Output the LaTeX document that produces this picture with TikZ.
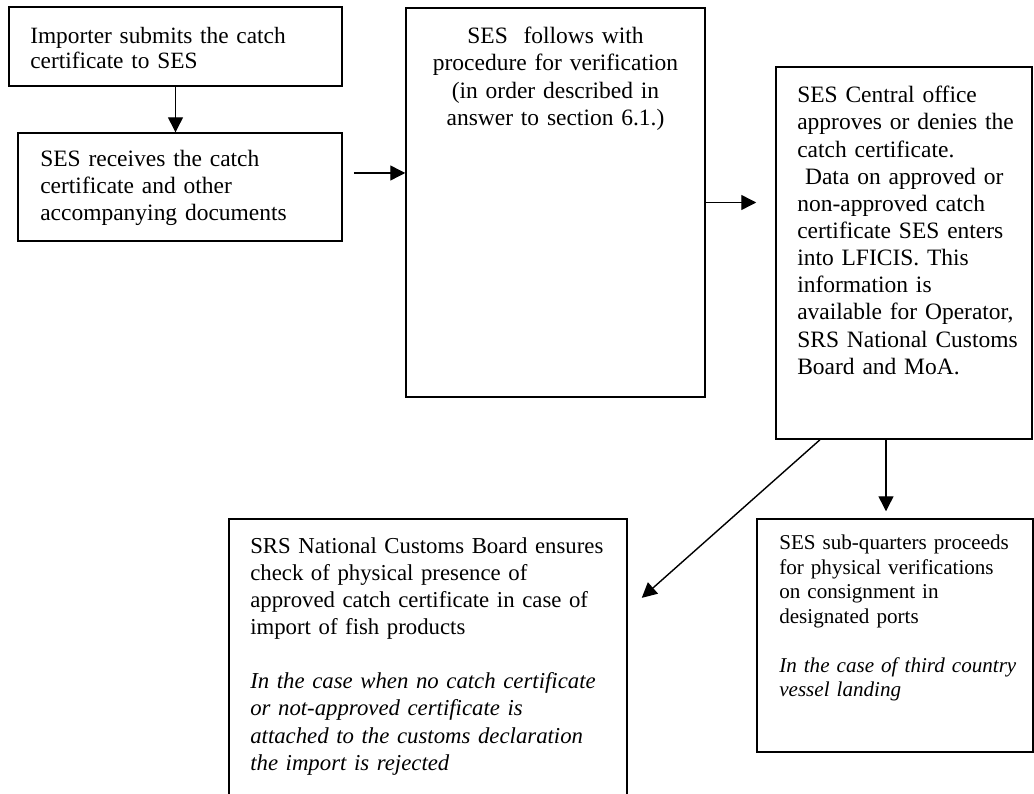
\documentclass[tikz,border=0pt]{standalone}
\usepackage{fontspec}
\setmainfont{Liberation Serif}
\usetikzlibrary{arrows.meta}
\tikzset{
  box/.style={draw, line width=1pt, inner sep=0pt},
  txt/.style={anchor=north west, inner sep=0pt, align=left},
  arr/.style={-{Triangle[length=0.375cm,width=0.375cm]}, line width=1pt},
  big/.style={font=\fontsize{16.7}{19.3}\selectfont},
  mid/.style={font=\fontsize{16.6}{17.8}\selectfont},
  small/.style={font=\fontsize{15}{17.4}\selectfont}
}

\begin{document}
\begin{tikzpicture}[x=0.025cm,y=-0.025cm]
            \useasboundingbox (0,0) rectangle (1034,794);

            \node[box, minimum width=8.325cm, minimum height=1.975cm] (imp) at (175.5,46.5) {};
            \node[box, minimum width=8.1cm, minimum height=2.7cm] (rec) at (180,187) {};
            \node[box, minimum width=7.475cm, minimum height=9.725cm] (ver) at (555.5,202.5) {};
            \node[box, minimum width=6.4cm, minimum height=9.3cm] (app) at (904,253) {};
            \node[box, minimum width=9.95cm, minimum height=7.025cm] (cus) at (428,659.5) {};
            \node[box, minimum width=6.9cm, minimum height=5.825cm] (sub) at (895,635.5) {};

            \node[txt, mid, text width=7.8cm] (impt) at (30,27) {Importer submits the catch\\certificate to SES};
            \node[txt, big, text width=7.6cm] (rect) at (40,150) {SES receives the catch\\certificate and other\\accompanying documents};
            \node[txt, big, anchor=north, align=center, text width=7cm] (vert) at (555.5,27) {SES\ \ follows with\\procedure for verification\\(in order described in\\answer to section 6.1.)};
            \node[txt, big, text width=5.8cm] (appt) at (797,86) {SES Central office\\approves or denies the\\catch certificate.\\\ Data on approved or\\non-approved catch\\certificate SES enters\\into LFICIS. This\\information is\\available for Operator,\\SRS National Customs\\Board and MoA.};
            \node[txt, font=\fontsize{16.2}{19.3}\selectfont, text width=9.4cm] (cust) at (250,537) {SRS National Customs Board ensures\\check of physical presence of\\approved catch certificate in case of\\import of fish products\\[19.3pt]\itshape In the case when no catch certificate\\or not-approved certificate is\\attached to the customs declaration\\the import is rejected};
            \node[txt, small, text width=6.4cm] (subt) at (779,535) {SES sub-quarters proceeds\\for physical verifications\\on consignment in\\designated ports\\[17.4pt]\itshape In the case of third country\\vessel landing};

            \coordinate (b1) at ([xshift=0.275cm,yshift=0.35cm]rec.east);
            \coordinate (c1) at ([xshift=-0.475cm]app.west |- ver.east);
            \coordinate (d1) at ([xshift=-0.45cm]app.south);
            \coordinate (d2) at ([xshift=-2.1cm]app.south);
            \coordinate (e1) at ([xshift=0.35cm,yshift=1.54cm]cus.east);

            \draw[arr] (imp.south) -- (imp.south |- rec.north);
            \draw[arr] (b1) -- (b1 -| ver.west);
            \draw[arr] (ver.east) -- (c1);
            \draw[arr, shorten >=0.175cm] (d1) -- (d1 |- sub.north);
            \draw[arr] (d2) -- (e1);
\end{tikzpicture}
\end{document}
